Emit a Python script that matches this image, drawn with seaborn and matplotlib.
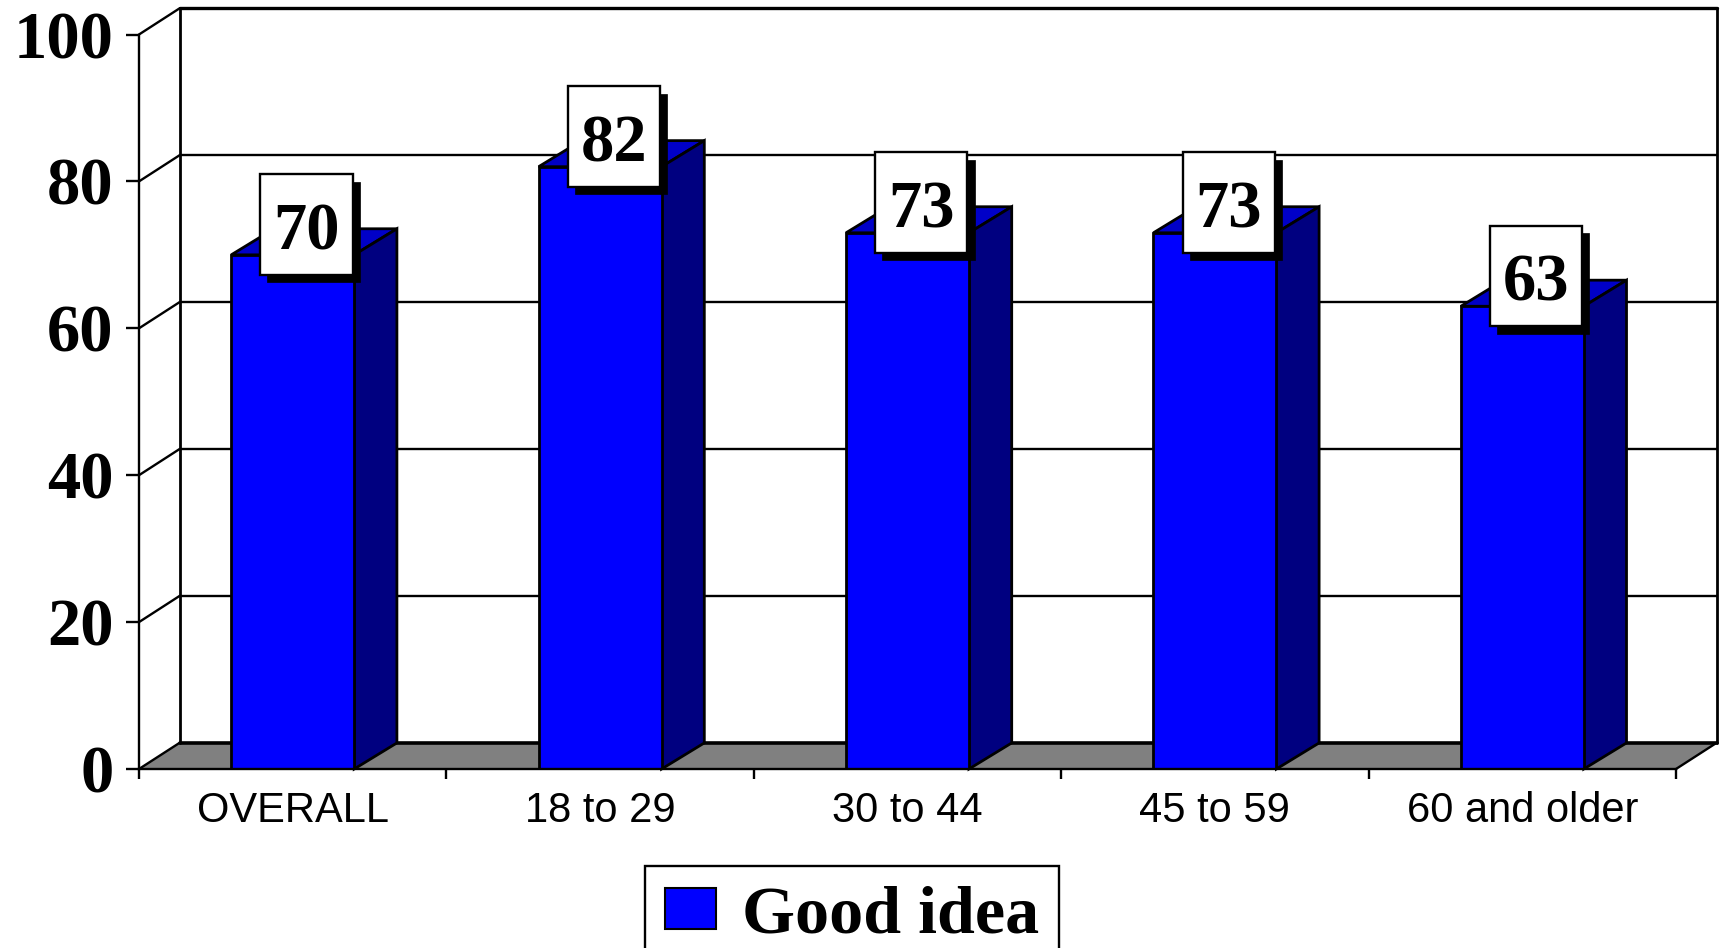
import matplotlib
matplotlib.use('Agg')
import matplotlib.pyplot as plt
from matplotlib.patches import Polygon, Rectangle, Patch
import pandas as pd
import seaborn as sns

# values
groups = ['OVERALL', '18 to 29', '30 to 44', '45 to 59', '60 and older']
good_idea = [70, 82, 73, 73, 63]
y_ticks = [0, 20, 40, 60, 80, 100]
legend_label = 'Good idea'

W, H = 1721, 948
sns.set_theme(style='white')
plt.rcParams['font.family'] = ['Liberation Serif', 'DejaVu Serif']
plt.rcParams['text.color'] = 'black'

df = pd.DataFrame({'group': groups, 'value': good_idea})

fig = plt.figure(figsize=(W / 100, H / 100), dpi=100, facecolor='white')
# axes box is the front plane of the fake 3D chart
ax = fig.add_axes([139 / W, 1 - 769 / H, (1676 - 139) / W, (769 - 34.5) / H])

sns.barplot(data=df, x='group', y='value', color='#0000ff', saturation=1,
            width=0.4, edgecolor='black', linewidth=2, ax=ax, zorder=3)
ax.set_xlim(-0.5, len(groups) - 0.5)
ax.set_ylim(0, 100)
ax.set_xlabel('')
ax.set_ylabel('')
ax.patch.set_alpha(0)

# depth of the walls and of the bars, in data units
wall_dx, wall_dy = 0.1334, 3.6
bar_dx, bar_dy = 0.139, 3.55
x0, x1 = -0.5, len(groups) - 0.5
lw = 1.7

# floor
ax.add_patch(Polygon([(x0, 0), (x1, 0), (x1 + wall_dx, wall_dy), (x0 + wall_dx, wall_dy)],
                     closed=True, facecolor='#808080', edgecolor='none',
                     clip_on=False, zorder=1))
ax.plot([x0 + wall_dx, x1 + wall_dx], [wall_dy, wall_dy], color='black', lw=2.6,
        clip_on=False, zorder=1.5)
ax.plot([x1, x1 + wall_dx], [0, wall_dy], color='black', lw=lw, clip_on=False, zorder=1.5)

# back wall, grid lines and the diagonals on the left wall
for t in y_ticks[1:]:
    width = 2.4 if t == 100 else lw
    ax.plot([x0 + wall_dx, x1 + wall_dx], [t + wall_dy, t + wall_dy], color='black',
            lw=width, clip_on=False, zorder=1.2)
for t in y_ticks:
    ax.plot([x0, x0 + wall_dx], [t, t + wall_dy], color='black', lw=lw,
            clip_on=False, zorder=1.5)
ax.plot([x0 + wall_dx, x0 + wall_dx], [wall_dy, 100 + wall_dy], color='black', lw=2,
        clip_on=False, zorder=1.5)
ax.plot([x1 + wall_dx, x1 + wall_dx], [wall_dy, 100 + wall_dy], color='black', lw=2,
        clip_on=False, zorder=1.5)

# top and side of each bar, then the value box
box_w, box_h = 0.30, 13.7
for bar, val in zip(ax.patches[:len(groups)], good_idea):
    left = bar.get_x()
    right = left + bar.get_width()
    ax.add_patch(Polygon([(left, val), (right, val), (right + bar_dx, val + bar_dy),
                          (left + bar_dx, val + bar_dy)], closed=True, facecolor='#0000c8',
                         edgecolor='black', lw=2, clip_on=False, zorder=2.8))
    ax.add_patch(Polygon([(right, 0), (right + bar_dx, bar_dy), (right + bar_dx, val + bar_dy),
                          (right, val)], closed=True, facecolor='#000080',
                         edgecolor='black', lw=2, clip_on=False, zorder=2.8))
    cx = left + bar.get_width() / 2 + 0.045
    cy = val + 4.1
    ax.add_patch(Rectangle((cx - box_w / 2 + 0.023, cy - box_h / 2 - 1.0), box_w, box_h,
                           facecolor='black', edgecolor='black', lw=0.5,
                           clip_on=False, zorder=4))
    ax.add_patch(Rectangle((cx - box_w / 2, cy - box_h / 2), box_w, box_h,
                           facecolor='white', edgecolor='black', lw=lw,
                           clip_on=False, zorder=4.1))
    ax.text(cx, cy - 1.1, str(val), ha='center', va='center', fontsize=48, fontweight='bold',
            color='black', zorder=4.2, clip_on=False)

# axes: spines, tick marks between the categories, labels under the centres
sns.despine(ax=ax, top=True, right=True)
for side in ['left', 'bottom']:
    ax.spines[side].set_color('black')
    ax.spines[side].set_linewidth(lw)
    ax.spines[side].set_zorder(3.5)

ax.set_yticks(y_ticks)
ax.set_yticklabels([str(t) for t in y_ticks], fontsize=48, fontweight='bold', color='black')
ax.tick_params(axis='y', which='major', direction='out', left=True, length=9.5, width=lw,
               color='black', pad=9)

ax.set_xticks([i - 0.5 for i in range(len(groups) + 1)])
ax.set_xticklabels([])
ax.set_xticks(range(len(groups)), minor=True)
ax.set_xticklabels(groups, minor=True, fontsize=30, color='black',
                   fontfamily=['Liberation Sans', 'DejaVu Sans'])
ax.tick_params(axis='x', which='major', direction='out', bottom=True, length=7.5, width=lw,
               color='black')
ax.tick_params(axis='x', which='minor', bottom=False, length=0, pad=16)

# legend box runs off the bottom edge of the picture, as in the original
leg = ax.legend(handles=[Patch(facecolor='#0000ff', edgecolor='black', lw=1.5, label=legend_label)],
                loc='upper left', bbox_to_anchor=(645 / W, 1 - 866 / H),
                bbox_transform=fig.transFigure, frameon=True, fancybox=False, framealpha=1,
                edgecolor='black', borderaxespad=0, prop={'size': 49, 'weight': 'bold'},
                handlelength=0.76, handleheight=0.55, handletextpad=0.38,
                borderpad=0.29)
leg.get_frame().set_linewidth(lw)
leg.set_zorder(5)

fig.savefig('out.png', dpi=100, facecolor='white')
